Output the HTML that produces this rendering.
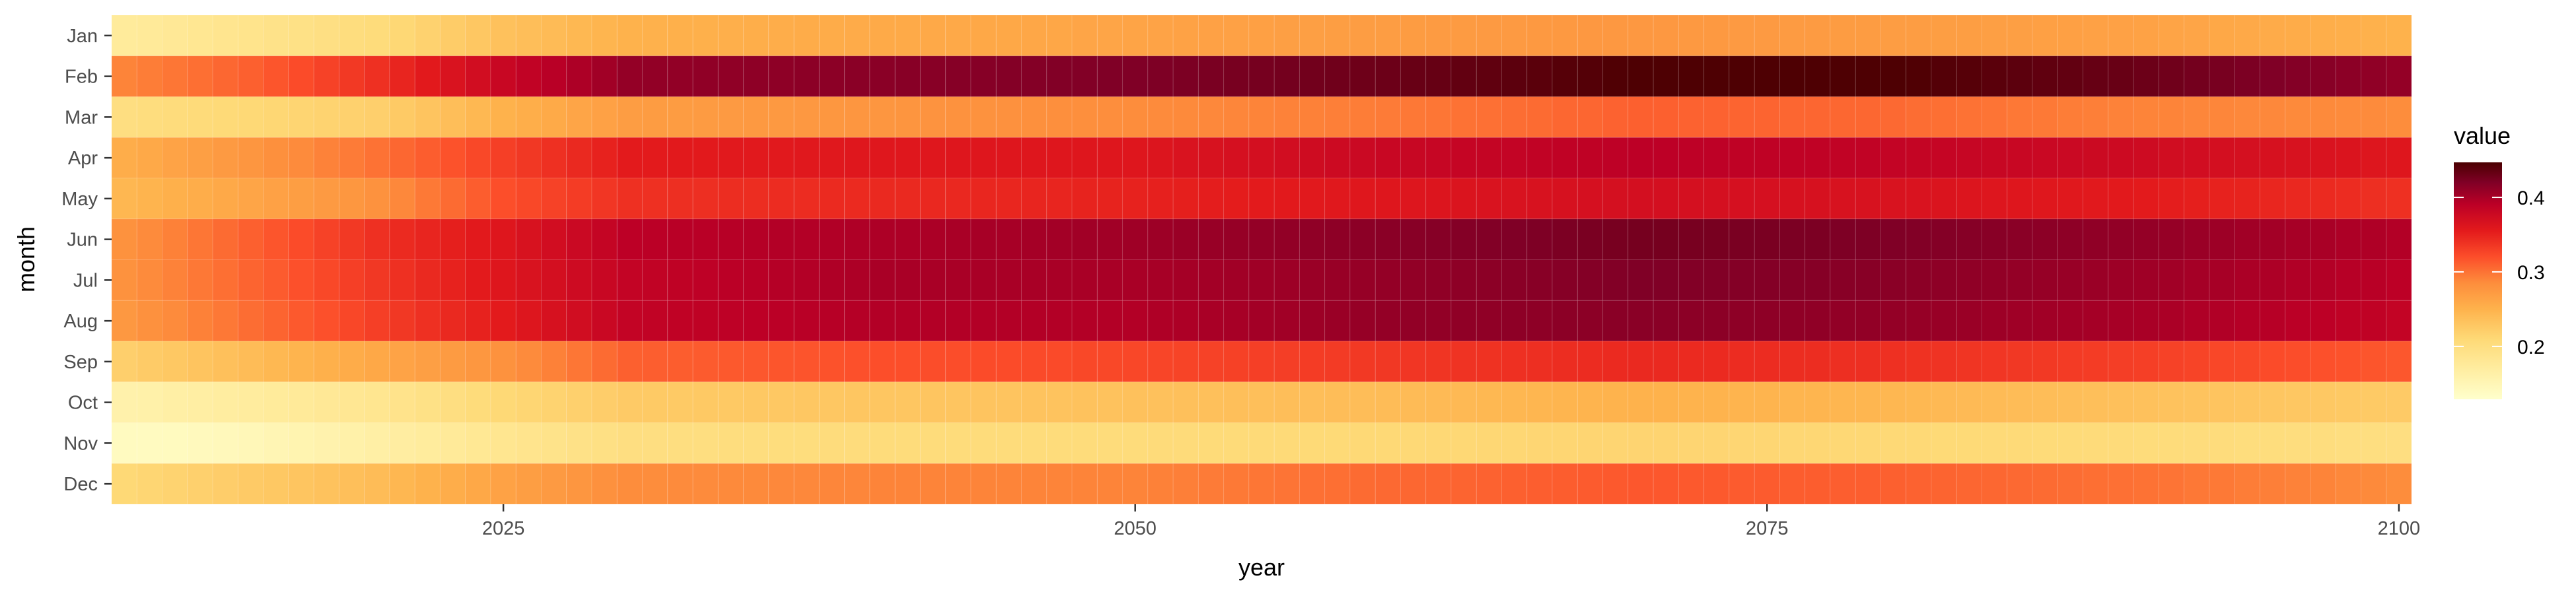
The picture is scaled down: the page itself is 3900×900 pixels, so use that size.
<!DOCTYPE html>
<html><head><meta charset="utf-8"><style>
html,body{margin:0;padding:0;background:#fff;}
svg{display:block;font-family:"Liberation Sans",Arial,sans-serif;}
</style></head><body>
<svg id="chart" width="3900" height="900" viewBox="0 0 3900 900" xmlns="http://www.w3.org/2000/svg">
<defs>
<linearGradient id="lg" x1="0" y1="1" x2="0" y2="0">
<stop offset="0" stop-color="#ffffcc"/><stop offset="0.129" stop-color="#ffeda0"/><stop offset="0.255" stop-color="#fed976"/><stop offset="0.381" stop-color="#feb24c"/><stop offset="0.491" stop-color="#fd8d3c"/><stop offset="0.601" stop-color="#fc4e2a"/><stop offset="0.711" stop-color="#e31a1c"/><stop offset="0.821" stop-color="#bd0026"/><stop offset="0.915" stop-color="#800026"/><stop offset="1" stop-color="#4a0000"/>
</linearGradient>
</defs>
<g id="cells"></g>
<g id="axes"></g>
<text transform="translate(52,393) rotate(-90)" text-anchor="middle" font-size="36" fill="#000">month</text>
<text x="1910" y="872" text-anchor="middle" font-size="36" fill="#000">year</text>
<g>
<text x="3715" y="218" font-size="36" fill="#000">value</text>
<rect x="3715" y="246" width="73" height="359" fill="url(#lg)"/>
<g id="legticks"></g>
</g>
</svg>
<script>
const months = ["Jan","Feb","Mar","Apr","May","Jun","Jul","Aug","Sep","Oct","Nov","Dec"];
const yearStart = 2010;
const xTicks = [2025,2050,2075,2100];
const legendTicks = [0.2,0.3,0.4];
const jan = [.175,.177,.180,.183,.186,.189,.192,.195,.198,.202,.205,.211,.217,.223,.229,.235,.238,.241,.244,.247,.250,.251,.252,.252,.253,.254,.255,.256,.256,.257,.258,.258,.259,.259,.260,.260,.261,.261,.262,.262,.263,.264,.265,.266,.266,.267,.268,.268,.269,.270,.270,.271,.272,.272,.273,.273,.274,.274,.275,.275,.275,.275,.274,.274,.273,.273,.272,.272,.271,.271,.270,.270,.269,.269,.268,.268,.267,.267,.266,.266,.265,.263,.262,.260,.259,.257,.256,.254,.253,.251,.250];
const feb = [.290,.294,.298,.302,.306,.310,.316,.322,.328,.334,.340,.348,.356,.364,.372,.380,.386,.392,.398,.404,.410,.411,.411,.412,.412,.413,.413,.414,.414,.415,.415,.416,.416,.417,.417,.418,.418,.419,.419,.420,.420,.421,.422,.423,.424,.425,.426,.427,.428,.429,.430,.432,.433,.435,.436,.438,.439,.441,.442,.444,.445,.445,.445,.445,.445,.445,.445,.445,.445,.445,.445,.444,.442,.441,.439,.438,.436,.435,.433,.432,.430,.428,.426,.424,.422,.420,.418,.416,.414,.412,.410];
const mar = [.200,.202,.204,.206,.208,.210,.212,.214,.216,.218,.220,.226,.232,.238,.244,.250,.254,.258,.262,.266,.270,.271,.271,.272,.273,.274,.274,.275,.276,.277,.277,.278,.279,.280,.280,.281,.282,.283,.283,.284,.285,.286,.287,.288,.289,.290,.291,.292,.293,.294,.295,.297,.298,.300,.301,.303,.304,.306,.307,.309,.310,.310,.309,.309,.308,.308,.307,.307,.306,.306,.305,.303,.302,.300,.299,.297,.296,.294,.293,.291,.290,.290,.289,.289,.288,.288,.287,.287,.286,.286,.285];
const apr = [.255,.259,.264,.268,.273,.277,.282,.286,.291,.295,.300,.306,.312,.318,.324,.330,.335,.340,.345,.350,.355,.355,.356,.356,.357,.357,.357,.358,.358,.359,.359,.359,.359,.360,.360,.360,.360,.360,.360,.360,.360,.362,.364,.366,.368,.370,.372,.374,.376,.378,.380,.381,.382,.383,.384,.385,.386,.387,.388,.389,.390,.390,.389,.389,.388,.388,.387,.387,.386,.386,.385,.384,.383,.382,.381,.380,.379,.378,.377,.376,.375,.373,.372,.370,.369,.367,.366,.364,.363,.361,.360];
const may = [.245,.248,.252,.255,.259,.262,.266,.269,.273,.276,.280,.288,.296,.304,.312,.320,.324,.328,.332,.336,.340,.340,.341,.341,.342,.342,.343,.343,.344,.344,.345,.345,.346,.346,.347,.347,.348,.348,.349,.349,.350,.351,.352,.353,.354,.355,.356,.357,.358,.359,.360,.361,.362,.363,.364,.365,.366,.367,.368,.369,.370,.370,.369,.369,.368,.368,.367,.367,.366,.366,.365,.364,.363,.362,.361,.360,.359,.358,.357,.356,.355,.353,.352,.350,.349,.347,.346,.344,.343,.341,.340];
const jun = [.280,.286,.292,.298,.304,.310,.316,.322,.328,.334,.340,.344,.348,.352,.356,.360,.366,.372,.378,.384,.390,.391,.392,.392,.393,.394,.395,.395,.396,.397,.398,.398,.399,.400,.401,.401,.402,.403,.404,.404,.405,.406,.407,.408,.409,.410,.411,.412,.413,.414,.415,.416,.417,.418,.419,.420,.421,.422,.423,.424,.425,.425,.424,.424,.423,.423,.422,.422,.421,.421,.420,.419,.418,.417,.416,.415,.414,.413,.412,.411,.410,.409,.407,.406,.404,.403,.401,.400,.398,.397,.395];
const jul = [.280,.286,.291,.297,.302,.308,.313,.319,.324,.330,.335,.340,.345,.350,.355,.360,.365,.370,.375,.380,.385,.386,.388,.389,.391,.392,.394,.395,.397,.398,.400,.400,.400,.400,.400,.400,.400,.400,.400,.400,.400,.401,.402,.403,.404,.405,.406,.407,.408,.409,.410,.411,.412,.413,.414,.415,.416,.417,.418,.419,.420,.420,.419,.419,.418,.418,.417,.417,.416,.416,.415,.414,.413,.412,.411,.410,.409,.408,.407,.406,.405,.404,.402,.401,.399,.398,.396,.395,.393,.392,.390];
const aug = [.275,.281,.286,.292,.297,.303,.308,.314,.319,.325,.330,.335,.340,.345,.350,.355,.361,.367,.373,.379,.385,.386,.387,.388,.389,.390,.391,.392,.393,.394,.395,.395,.395,.395,.395,.395,.395,.395,.395,.395,.395,.397,.398,.400,.401,.403,.404,.406,.407,.409,.410,.411,.411,.412,.412,.413,.413,.414,.414,.415,.415,.415,.414,.414,.413,.413,.412,.412,.411,.411,.410,.409,.408,.407,.406,.405,.404,.403,.402,.401,.400,.399,.397,.396,.394,.393,.391,.390,.388,.387,.385];
const sep = [.220,.224,.228,.232,.236,.240,.244,.248,.252,.256,.260,.264,.268,.272,.276,.280,.286,.292,.298,.304,.310,.311,.312,.313,.314,.315,.316,.317,.318,.319,.320,.320,.321,.321,.322,.322,.323,.323,.324,.324,.325,.326,.327,.328,.329,.330,.331,.332,.333,.334,.335,.336,.337,.338,.339,.340,.341,.342,.343,.344,.345,.345,.344,.344,.343,.343,.342,.342,.341,.341,.340,.339,.338,.337,.336,.335,.334,.333,.332,.331,.330,.328,.327,.325,.324,.322,.321,.319,.318,.316,.315];
const oct = [.160,.162,.165,.167,.170,.172,.175,.177,.180,.182,.185,.190,.195,.200,.205,.210,.213,.216,.219,.222,.225,.226,.226,.227,.227,.228,.228,.229,.229,.230,.230,.230,.231,.231,.232,.232,.233,.233,.234,.234,.235,.235,.236,.236,.237,.237,.238,.238,.239,.239,.240,.241,.242,.243,.244,.245,.246,.247,.248,.249,.250,.250,.249,.249,.248,.248,.247,.247,.246,.246,.245,.244,.243,.242,.241,.240,.239,.238,.237,.236,.235,.234,.233,.232,.231,.230,.229,.228,.227,.226,.225];
const nov = [.140,.140,.141,.143,.145,.148,.151,.155,.158,.162,.165,.169,.173,.177,.181,.185,.188,.191,.194,.197,.200,.200,.201,.201,.202,.202,.203,.203,.204,.204,.205,.205,.205,.205,.205,.205,.205,.205,.205,.205,.205,.206,.206,.207,.207,.208,.208,.209,.209,.210,.210,.210,.211,.211,.212,.212,.213,.213,.214,.214,.215,.215,.214,.214,.213,.213,.212,.212,.211,.211,.210,.210,.209,.209,.208,.208,.207,.207,.206,.206,.205,.205,.204,.204,.203,.203,.202,.202,.201,.201,.200];
const dec = [.210,.213,.216,.219,.222,.225,.228,.231,.234,.237,.240,.245,.250,.255,.260,.265,.269,.273,.277,.281,.285,.285,.286,.286,.287,.287,.288,.288,.289,.289,.290,.290,.290,.290,.290,.290,.290,.290,.290,.290,.290,.292,.293,.295,.296,.298,.299,.301,.302,.304,.305,.306,.307,.308,.309,.310,.311,.312,.313,.314,.315,.315,.314,.314,.313,.313,.312,.312,.311,.311,.310,.309,.308,.307,.306,.305,.304,.303,.302,.301,.300,.299,.297,.296,.294,.293,.291,.290,.288,.287,.285];
const series = [jan,feb,mar,apr,may,jun,jul,aug,sep,oct,nov,dec];

const NS = "http://www.w3.org/2000/svg";
const X0 = 169, X1 = 3651, Y0 = 23, Y1 = 764;
const nYears = jan.length;
const cw = (X1 - X0) / nYears;
const rh = (Y1 - Y0) / months.length;
function xScale(year){ return X0 + (year - yearStart + 0.5) * cw; }
function yScale(i){ return Y0 + (i + 0.5) * rh; }
const vMin = 0.129, vMax = 0.447;
const stops = [[0,"#ffffcc"],[0.129,"#ffeda0"],[0.255,"#fed976"],[0.381,"#feb24c"],[0.491,"#fd8d3c"],[0.601,"#fc4e2a"],[0.711,"#e31a1c"],[0.821,"#bd0026"],[0.915,"#800026"],[1,"#4a0000"]];
function hex(h){ return [1,3,5].map(i=>parseInt(h.substr(i,2),16)); }
function color(v){
  let t = Math.max(0, Math.min(1, (v - vMin) / (vMax - vMin)));
  for (let k = 1; k < stops.length; k++) {
    if (t <= stops[k][0]) {
      const a = stops[k-1], b = stops[k];
      const f = (t - a[0]) / (b[0] - a[0]);
      const ca = hex(a[1]), cb = hex(b[1]);
      return "rgb(" + ca.map((c,j)=>Math.round(c + (cb[j]-c)*f)).join(",") + ")";
    }
  }
  return stops[stops.length-1][1];
}
function legendY(v){ return 605 - (v - vMin) / (vMax - vMin) * 359; }

const cells = document.getElementById("cells");
series.forEach((vals, mi) => {
  vals.forEach((v, yi) => {
    const r = document.createElementNS(NS, "rect");
    r.setAttribute("x", (xScale(yearStart + yi) - cw/2).toFixed(2));
    r.setAttribute("y", (yScale(mi) - rh/2).toFixed(2));
    r.setAttribute("width", cw.toFixed(2));
    r.setAttribute("height", rh.toFixed(2));
    r.setAttribute("fill", color(v));
    r.setAttribute("stroke", "rgba(255,255,255,0.12)");
    r.setAttribute("stroke-width", "1");
    
    
    cells.appendChild(r);
  });
});

const axes = document.getElementById("axes");
months.forEach((m, i) => {
  const y = yScale(i);
  const t = document.createElementNS(NS, "line");
  t.setAttribute("x1", 158); t.setAttribute("x2", 169);
  t.setAttribute("y1", y); t.setAttribute("y2", y);
  t.setAttribute("stroke", "#333"); t.setAttribute("stroke-width", "2.5");
  
  
  axes.appendChild(t);
  const l = document.createElementNS(NS, "text");
  l.setAttribute("x", 148); l.setAttribute("y", y + 10);
  l.setAttribute("text-anchor", "end"); l.setAttribute("font-size", "29");
  l.setAttribute("fill", "#4d4d4d");
  l.textContent = m;
  
  
  axes.appendChild(l);
});
xTicks.forEach(yr => {
  const x = xScale(yr);
  const t = document.createElementNS(NS, "line");
  t.setAttribute("x1", x); t.setAttribute("x2", x);
  t.setAttribute("y1", 764); t.setAttribute("y2", 775);
  t.setAttribute("stroke", "#333"); t.setAttribute("stroke-width", "2.5");
  
  
  axes.appendChild(t);
  const l = document.createElementNS(NS, "text");
  l.setAttribute("x", x); l.setAttribute("y", 810);
  l.setAttribute("text-anchor", "middle"); l.setAttribute("font-size", "29");
  l.setAttribute("fill", "#4d4d4d");
  l.textContent = yr;
  
  
  axes.appendChild(l);
});

const lt = document.getElementById("legticks");
legendTicks.forEach(v => {
  const y = legendY(v);
  [[3715,3730],[3773,3788]].forEach(p => {
    const t = document.createElementNS(NS, "line");
    t.setAttribute("x1", p[0]); t.setAttribute("x2", p[1]);
    t.setAttribute("y1", y); t.setAttribute("y2", y);
    t.setAttribute("stroke", "#fff"); t.setAttribute("stroke-width", "2");
    
    
    lt.appendChild(t);
  });
  const l = document.createElementNS(NS, "text");
  l.setAttribute("x", 3811); l.setAttribute("y", y + 11);
  l.setAttribute("font-size", "30"); l.setAttribute("fill", "#000");
  l.textContent = v.toFixed(1);
  
  
  lt.appendChild(l);
});
</script>
</body></html>
